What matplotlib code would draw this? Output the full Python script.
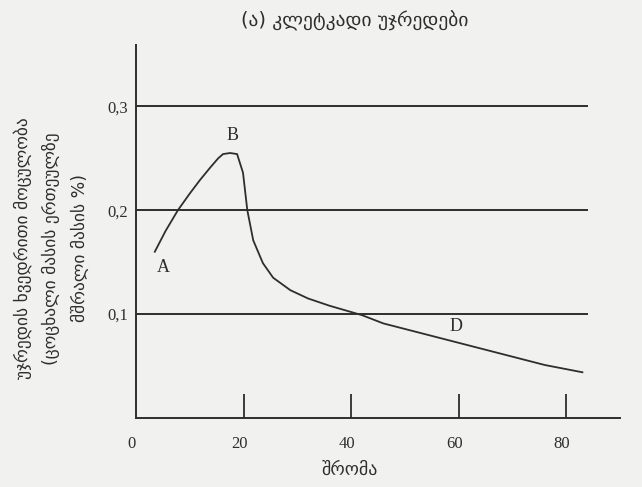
import matplotlib
matplotlib.use("Agg")
import matplotlib.pyplot as plt

plt.rcParams['font.family'] = ['Liberation Serif', 'DejaVu Serif', 'DejaVu Sans']

# curve
x_vals = [3.5, 5.5, 7.8, 10.0, 11.9, 13.8, 15.3, 16.2, 17.5, 18.8, 19.9, 20.7,
          21.8, 23.6, 25.5, 28.7, 32.0, 36.0, 42.0, 46.0, 52.0, 58.0, 64.0, 70.0,
          76.0, 83.0]
y_vals = [0.160, 0.180, 0.200, 0.216, 0.229, 0.241, 0.250, 0.254, 0.255, 0.254,
          0.236, 0.200, 0.171, 0.149, 0.135, 0.123, 0.115, 0.108, 0.099, 0.091,
          0.083, 0.075, 0.067, 0.059, 0.051, 0.044]

grid_levels = [0.1, 0.2, 0.3]
y_tick_labels = ['0,1', '0,2', '0,3']
x_ticks = [20, 40, 60, 80]
x_tick_labels = ['0', '20', '40', '60', '80']

point_labels = ['A', 'B', 'D']
point_x = [5.0, 18.0, 59.5]
point_y = [0.145, 0.272, 0.088]

title = '(ა) კლეტკადი უჯრედები'
xlabel = 'შრომა'
ylabel_lines = ['უჯრედის ხვედრითი მოცულობა',
                '(ცოცხალი მასის ერთეულზე',
                'მშრალი მასის %)']

ink = '#2e2e2e'
paper = '#f1f1ef'

fig = plt.figure(figsize=(6.42, 4.87), dpi=100, facecolor=paper)
ax = fig.add_axes([0.2118, 0.1417, 0.754, 0.766])
ax.set_facecolor(paper)

ax.plot(x_vals, y_vals, color=ink, lw=1.3)
ax.hlines(grid_levels, 0, 84, color=ink, lw=1.4)

ax.set_xlim(0, 90)
ax.set_ylim(0, 0.359)

for s in ['top', 'right']:
    ax.spines[s].set_visible(False)
for s in ['left', 'bottom']:
    ax.spines[s].set_color(ink)
    ax.spines[s].set_linewidth(1.4)

ax.set_xticks(x_ticks)
ax.tick_params(axis='x', direction='in', length=17, width=1.3, color=ink,
               labelbottom=False)
ax.set_yticks(grid_levels)
ax.set_yticklabels(y_tick_labels)
ax.tick_params(axis='y', length=0, pad=6, labelsize=12, labelcolor=ink)

for i, lab in enumerate(x_tick_labels):
    ax.text(i * 20 - 0.8, -0.025, lab, ha='center', va='center', fontsize=12,
            color=ink)

for lab, px, py in zip(point_labels, point_x, point_y):
    ax.text(px, py, lab, ha='center', va='center', fontsize=13, color=ink)

fig.text(0.553, 0.958, title, ha='center', va='center', fontsize=14,
         color=ink, family=['DejaVu Sans'])
fig.text(0.545, 0.035, xlabel, ha='center', va='center', fontsize=13,
         color=ink, family=['DejaVu Sans'])
for i, line in enumerate(ylabel_lines):
    fig.text(0.035 + i * 0.045, 0.49, line, rotation=90, ha='center',
             va='center', fontsize=12.5, color=ink, family=['DejaVu Sans'])

fig.savefig('out.png', dpi=100, facecolor=paper)
